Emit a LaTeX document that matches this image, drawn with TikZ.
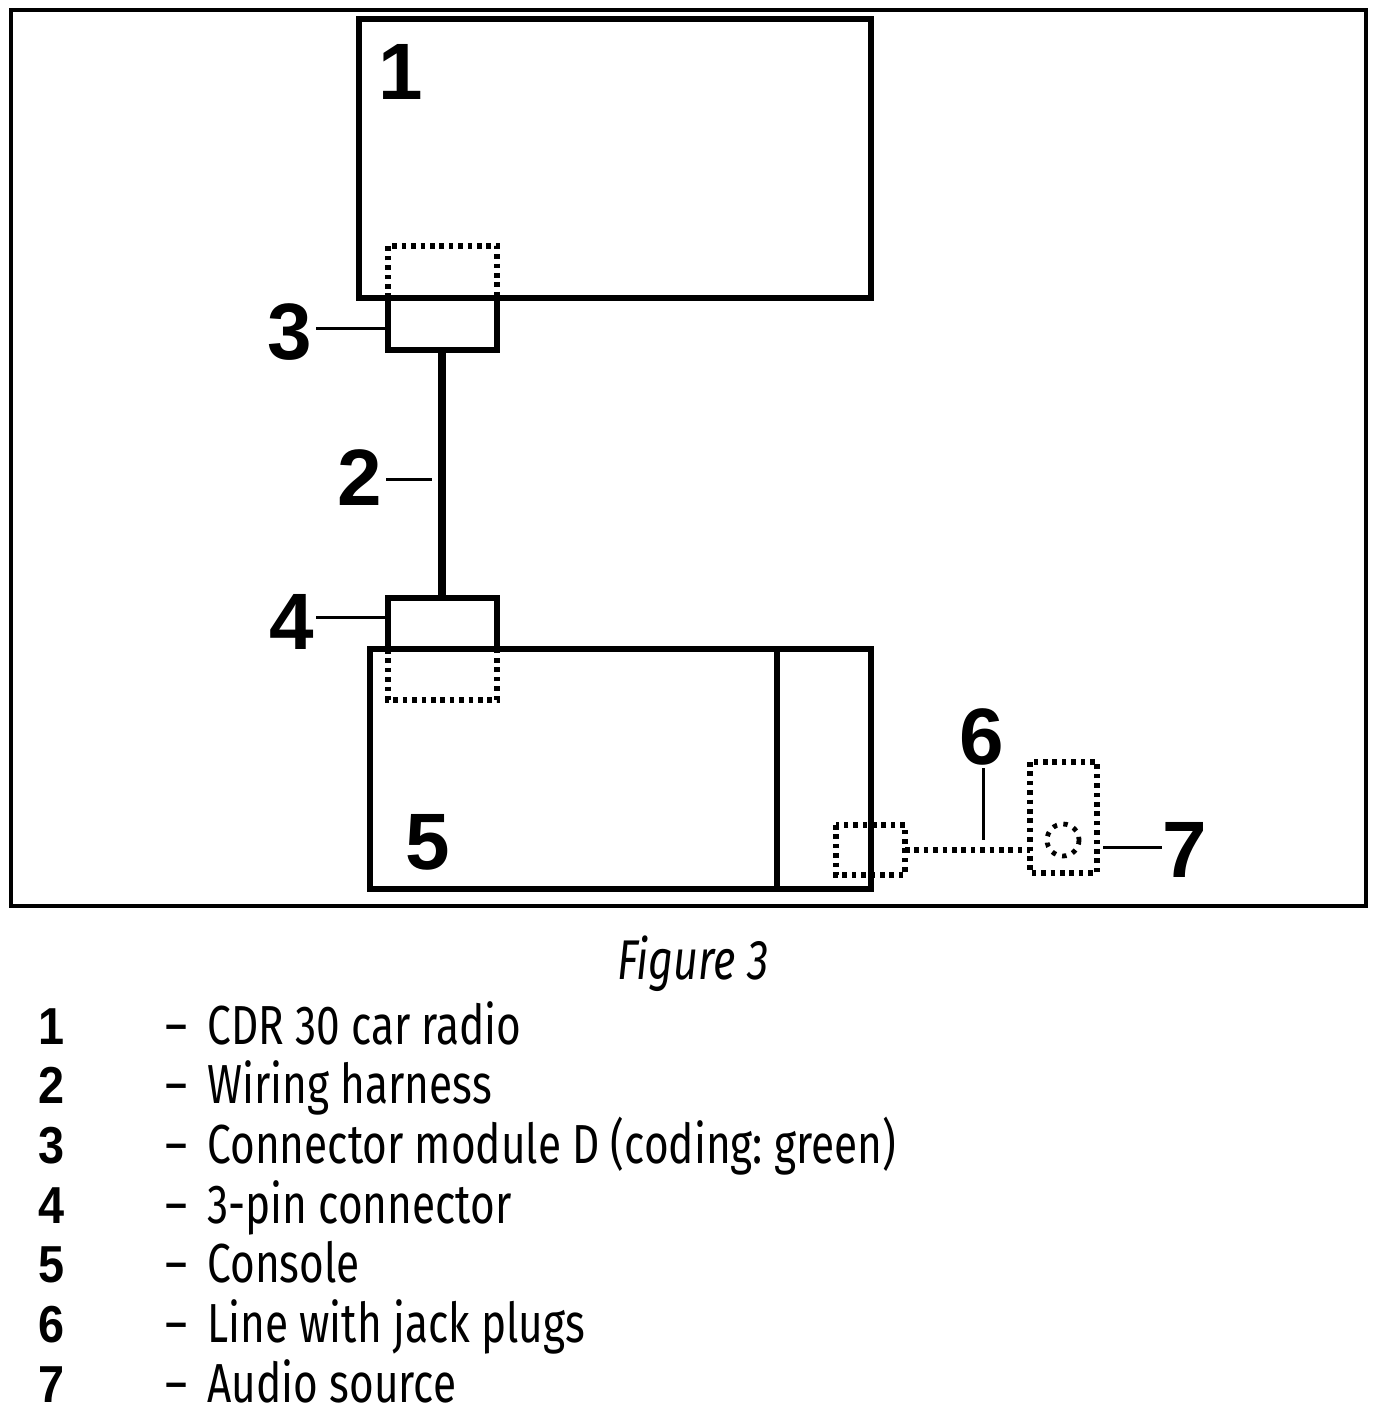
\documentclass[tikz,border=0pt]{standalone}
\usepackage{fontspec}
\setmainfont{Fira Sans}[FakeStretch=0.77]
\newfontfamily\numfont{Liberation Sans}
\newfontfamily\legnum{Liberation Sans}[FakeStretch=0.9]
\begin{document}
\begin{tikzpicture}[x=0.5pt,y=-0.5pt,
  frame/.style={draw,line width=2pt},
  box/.style={draw,line width=2.8pt},
  dotbox/.style={draw,line width=2.6pt,dash pattern=on 2.3pt off 2.4pt},
  lead/.style={draw,line width=1.5pt},
  wire/.style={draw,line width=3.6pt},
  bignum/.style={inner sep=0pt,font=\numfont\bfseries\fontsize{40}{44}\selectfont},
  legn/.style={anchor=base,inner sep=0pt,font=\legnum\bfseries\fontsize{26}{30}\selectfont},
  legt/.style={anchor=base west,inner sep=0pt,font=\fontsize{27.5}{30}\selectfont}]
\useasboundingbox (0,0) rectangle (1380,1422);
% outer frame
\draw[frame] (11,10) rectangle (1366,906);
% radio
\draw[box] (359,19) rectangle (871,298);
% connector 3
\draw[dotbox] (388,298) -- (388,246) -- (497,246) -- (497,298);
\draw[box] (388,298) -- (388,350) -- (497,350) -- (497,298);
\coordinate (c3top) at (442,350);
\coordinate (c3left) at (386,329);
% connector 4
\draw[box] (388,649) -- (388,598) -- (497,598) -- (497,649);
\draw[dotbox] (388,649) -- (388,700) -- (497,700) -- (497,649);
\coordinate (c4top) at (442,598);
\coordinate (c4left) at (386,617);
% wire 2
\draw[wire] (c3top) -- (c4top);
% console 5
\draw[box] (370,649) rectangle (871,889);
\draw[box] (777,649) -- (777,889);
% jack plug and audio source
\draw[dotbox] (836,825) rectangle (905,875);
\coordinate (jack) at (905,850);
\draw[dotbox] (1030,762) rectangle (1097,873);
\coordinate (src) at (1030,850);
\draw[dotbox] (jack) -- (src);
\draw[line width=2.4pt,dash pattern=on 2.2pt off 3.2pt] (1063,840) circle (16);
% labels
\node[bignum] (n1) at (401,72) {1};
\node[bignum] (n3) at (290,332) {3};
\node[bignum] (n2) at (360,478) {2};
\node[bignum] (n4) at (292,622) {4};
\node[bignum] (n5) at (428,842) {5};
\node[bignum] (n6) at (982,737) {6};
\node[bignum] (n7) at (1185,850) {7};
\draw[lead] (316,329) -- (c3left);
\draw[lead] (386,479) -- (432,479);
\draw[lead] (316,617) -- (c4left);
\draw[lead] (983,768) -- (983,840);
\draw[lead] (1103,847) -- (1162,847);
% caption
\node[anchor=base,inner sep=0pt,font=\itshape\fontsize{28}{30}\selectfont] (cap) at (693,979) {Figure 3};
% legend
\foreach \n/\t [count=\i from 0] in {1/CDR 30 car radio,2/Wiring harness,3/Connector module D (coding:~green),4/3-pin connector,5/Console,6/Line with jack plugs,7/Audio source}{
  \node[legn] (l\n) at (52,1044+59.7*\i) {\n};
  \node[legt] (d\n) at (165,1044+59.7*\i) {--\hspace{10pt}\t};
}
\end{tikzpicture}
\end{document}
